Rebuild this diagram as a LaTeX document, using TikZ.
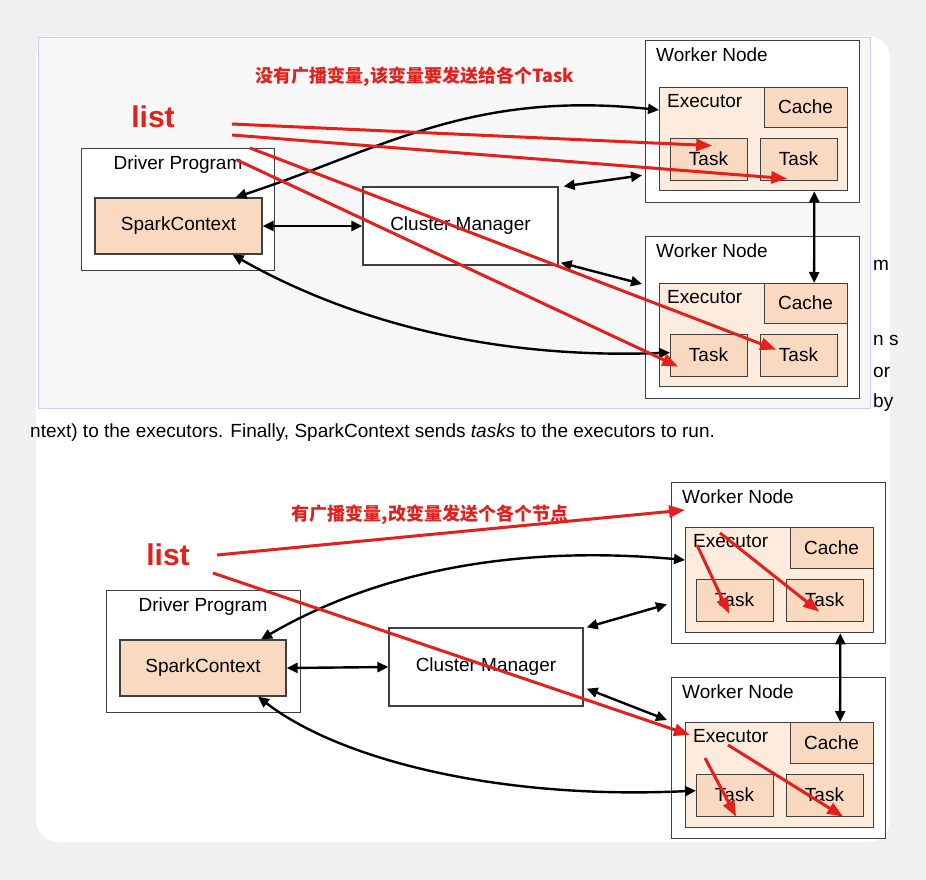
\documentclass[tikz,border=0pt]{standalone}
\usepackage{fontspec}
\setmainfont{Liberation Sans}
\newfontfamily\cjk{Noto Sans CJK SC}
\usetikzlibrary{arrows.meta}
\definecolor{peach}{HTML}{F9D9BF}
\definecolor{lpeach}{HTML}{FDEBDD}
\definecolor{redc}{HTML}{E3201B}
\begin{document}
\begin{tikzpicture}[x=1pt,y=-1pt,
 box/.style={draw=black!75,line width=1.3pt,fill=white},
 pbox/.style={draw=black!75,line width=1.3pt,fill=peach},
 ebox/.style={draw=black!75,line width=1.3pt,fill=lpeach},
 lab/.style={font=\fontsize{19}{21}\selectfont,inner sep=0pt},
 blk/.style={line width=2.4pt,{Triangle[length=11pt,width=10pt]}-{Triangle[length=11pt,width=10pt]}},
 red/.style={draw=redc,line width=3pt,-{Triangle[length=16pt,width=12pt]}},
 rt/.style={text=redc,font=\cjk\bfseries\fontsize{18}{20}\selectfont,inner sep=0pt},
 lt/.style={text=redc,font=\bfseries\fontsize{30}{32}\selectfont,inner sep=0pt}]
\useasboundingbox (0,0) rectangle (926,880);
\fill[black!6] (0,0) rectangle (926,880);
\fill[white,rounded corners=22pt] (36,36) rectangle (890,842);
\fill[black!3] (38,38) rectangle (870,408);
\draw[blue!20,line width=1pt] (38,38) rectangle (870,408);
% text fragments
\node[anchor=west,lab] (txt) at (30,433) {ntext) to the executors. Finally, SparkContext sends \textit{tasks} to the executors to run.};
\node[anchor=west,lab] (f1) at (873,265) {m};
\node[anchor=west,lab] (f2) at (873,340) {n s};
\node[anchor=west,lab] (f3) at (873,372) {or};
\node[anchor=west,lab] (f4) at (873,403) {by};
% ---------- top diagram
\node[box,minimum width=193pt,minimum height=122pt,anchor=north west] (dp1) at (81,148) {};
\node[lab,anchor=north] at (178,156) {Driver Program};
\node[pbox,minimum width=167pt,minimum height=56pt] (sc1) at (178.5,226) {};
\node[lab] at (178.5,226) {SparkContext};
\node[box,minimum width=195pt,minimum height=78pt] (cm1) at (460.5,226) {};
\node[lab] at (460.5,226) {Cluster Manager};
\foreach \i/\y in {1/40,2/236}{
 \node[box,minimum width=214pt,minimum height=162pt,anchor=north west] (w1\i) at (645,\y) {};
 \node[lab,anchor=north west] at (656,\y+8) {Worker Node};
 \node[ebox,minimum width=188pt,minimum height=103pt,anchor=north west] (e1\i) at (659,\y+47) {};
 \node[lab,anchor=north west] at (667,\y+54) {Executor};
 \node[pbox,minimum width=83pt,minimum height=40pt,anchor=north west] (c1\i) at (764,\y+47) {};
 \node[lab] at (805.5,\y+67) {Cache};
 \node[pbox,minimum width=77pt,minimum height=42pt,anchor=north west] (ta1\i) at (670,\y+98) {};
 \node[lab] at (708.5,\y+119) {Task};
 \node[pbox,minimum width=77pt,minimum height=42pt,anchor=north west] (tb1\i) at (760,\y+98) {};
 \node[lab] at (798.5,\y+119) {Task};
}
\draw[blk] (sc1.east) -- (cm1.west);
\draw[blk] ([xshift=5pt]cm1.north east) -- ([yshift=28pt,xshift=-3pt]w11.south west);
\draw[blk] ([xshift=2pt,yshift=3pt]cm1.south east) -- ([yshift=-48pt,xshift=-3pt]w12.north west);
\draw[blk] ([xshift=-34pt]e11.south east) -- ([xshift=8pt]c12.north);
\draw[blk] (sc1.north) ++(57pt,0) .. controls (380,150) and (470,90) .. ([yshift=-23pt]e11.north west);
\draw[blk] (sc1.south) ++(54pt,0) .. controls (330,310) and (470,360) .. ([yshift=3pt]ta12.west);
\node[lt] (list1) at (153,117) {list};
\node[rt] (t1) at (415,77) {没有广播变量,该变量要发送给各个Task};
\coordinate (r1) at (232,124); \coordinate (r2) at (232,135);
\coordinate (r3) at (250,148); \coordinate (r4) at (237,160);
\draw[red] (r1) -- ([xshift=3pt,yshift=14pt]ta11.center);
\draw[red] (r2) -- ([xshift=-12pt,yshift=-19pt]tb11.center);
\draw[red] (r3) -- ([xshift=-23pt,yshift=6pt]tb12.center);
\draw[red] (r4) -- ([xshift=-31pt,yshift=-11pt]ta12.center);
% ---------- bottom diagram
\node[box,minimum width=194pt,minimum height=122pt,anchor=north west] (dp2) at (106,590) {};
\node[lab,anchor=north] at (203,598) {Driver Program};
\node[pbox,minimum width=166pt,minimum height=56pt] (sc2) at (203,668) {};
\node[lab] at (203,668) {SparkContext};
\node[box,minimum width=194pt,minimum height=78pt] (cm2) at (486,667) {};
\node[lab] at (486,667) {Cluster Manager};
\foreach \i/\y in {1/482,2/677}{
 \node[box,minimum width=214pt,minimum height=161pt,anchor=north west] (w2\i) at (671,\y) {};
 \node[lab,anchor=north west] at (682,\y+8) {Worker Node};
 \node[ebox,minimum width=188pt,minimum height=105pt,anchor=north west] (e2\i) at (685,\y+45) {};
 \node[lab,anchor=north west] at (693,\y+52) {Executor};
 \node[pbox,minimum width=83pt,minimum height=41pt,anchor=north west] (c2\i) at (790,\y+45) {};
 \node[lab] at (831.5,\y+66) {Cache};
 \node[pbox,minimum width=77pt,minimum height=42pt,anchor=north west] (ta2\i) at (696,\y+97) {};
 \node[lab] at (734.5,\y+118) {Task};
 \node[pbox,minimum width=77pt,minimum height=42pt,anchor=north west] (tb2\i) at (786,\y+97) {};
 \node[lab] at (824.5,\y+118) {Task};
}
\draw[blk] (sc2.east) -- (cm2.west);
\draw[blk] ([xshift=3pt]cm2.north east) -- ([yshift=40pt,xshift=-4pt]w21.south west);
\draw[blk] ([xshift=3pt,yshift=18pt]cm2.south east) -- ([yshift=-43pt,xshift=-4pt]w22.north west);
\draw[blk] ([xshift=-34pt]e21.south east) -- ([xshift=8pt]c22.north);
\draw[blk] (sc2.north) ++(58pt,0) .. controls (380,570) and (520,545) .. ([yshift=-33pt]e21.north west);
\draw[blk] (sc2.south) ++(55pt,0) .. controls (340,760) and (500,800) .. ([yshift=5pt]ta22.west);
\node[lt] (list2) at (168,555) {list};
\node[rt] (t2) at (430,515) {有广播变量,改变量发送个各个节点};
\coordinate (s1) at (217,555); \coordinate (s2) at (213,573);
\draw[red] (s1) -- ([xshift=14pt,yshift=-28pt]w21.north west);
\draw[red] (s2) -- ([xshift=5pt,yshift=-13pt]e22.north west);
\coordinate (i1) at (697,545); \coordinate (i2) at (720,533);
\coordinate (i3) at (705,758); \coordinate (i4) at (728,745);
\draw[red] (i1) -- ([xshift=-6pt,yshift=-13pt]ta21.center);
\draw[red] (i2) -- ([xshift=-6pt,yshift=-11pt]tb21.center);
\draw[red] (i3) -- ([xshift=1pt,yshift=-21pt]ta22.center);
\draw[red] (i4) -- ([xshift=18pt,yshift=-21pt]tb22.center);
\end{tikzpicture}
\end{document}
